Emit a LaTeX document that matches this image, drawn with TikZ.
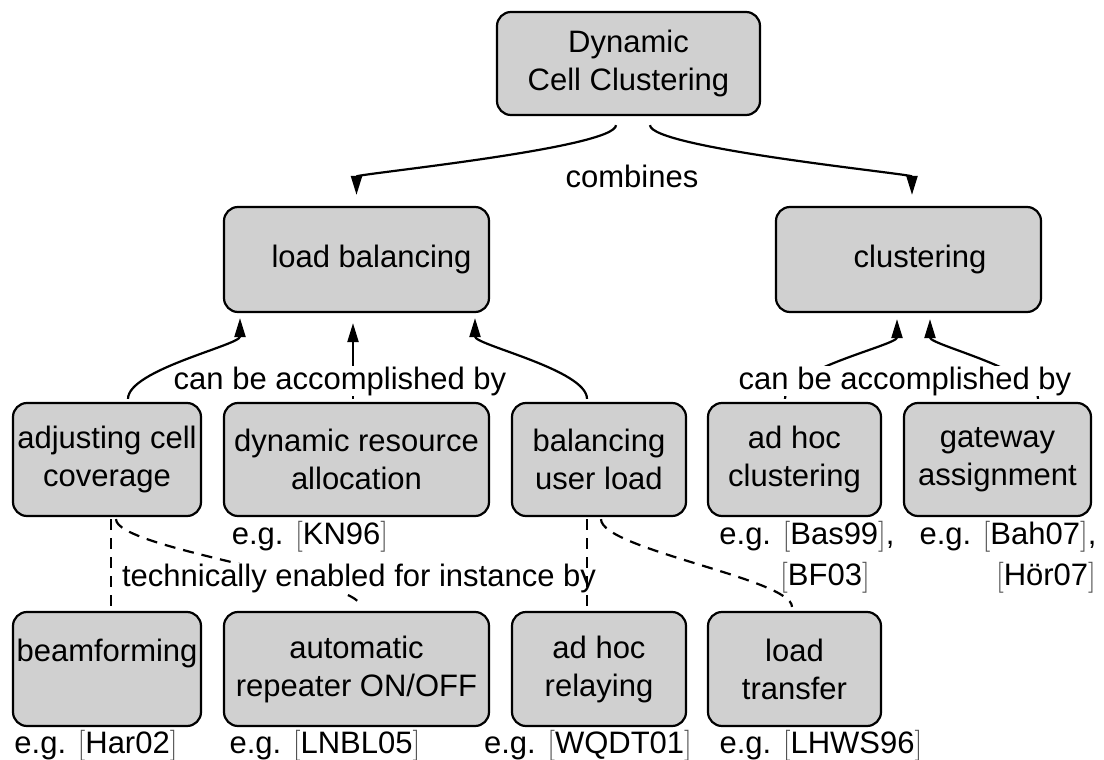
\documentclass[tikz,border=0pt]{standalone}
\usepackage{fontspec}
\setsansfont{Liberation Sans}
\usetikzlibrary{arrows.meta}
\definecolor{boxfill}{RGB}{208,208,208}
% citation keys in thin serif brackets
\newcommand\refbr[1]{{\rmfamily\color{black!70}[}#1{\rmfamily\color{black!70}]}}

\begin{document}
\begin{tikzpicture}[x=1pt,y=1pt,
  every node/.style={font=\sffamily\fontsize{31}{38}\selectfont, inner sep=0pt},
  box/.style={draw=black, line width=2.2pt, fill=boxfill, rounded corners=14pt, align=center},
  link/.style={line width=2.2pt, -{Triangle[length=19pt,width=11pt]}},
  hint/.style={line width=2.2pt, dash pattern=on 11pt off 8pt},
  tag/.style={fill=white, inner xsep=2pt, inner ysep=1pt},
  bend/.style={out=#1, in=-#1, out distance=32pt, in distance=32pt}]
\useasboundingbox (0,0) rectangle (1104,-760);

% top level
\node[box, minimum width=263pt, minimum height=103pt] (top) at (628.5,-63.5) {Dynamic\\Cell Clustering};

% second level
\node[box, minimum width=265pt, minimum height=105pt] (lb) at (356.5,-259.5) {\hspace*{30pt}load balancing};
\node[box, minimum width=265pt, minimum height=105pt] (cl) at (908.5,-259.5) {\hspace*{23pt}clustering};

% methods
\node[box, minimum width=188pt, minimum height=113pt] (adj) at (107,-459.5) {adjusting cell\\coverage};
\node[box, minimum width=265pt, minimum height=113pt] (dra) at (356.5,-459.5) {dynamic resource\\allocation};
\node[box, minimum width=174pt, minimum height=113pt] (bul) at (599,-459.5) {balancing\\user load};
\node[box, minimum width=173pt, minimum height=113pt] (ahc) at (794.5,-459.5) {ad hoc\\clustering};
\node[box, minimum width=187pt, minimum height=113pt] (ga) at (997.5,-459.5) {gateway\\assignment};

% enabling techniques
\node[box, minimum width=188pt, minimum height=114pt] (bf) at (107,-669) {beamforming\\\mbox{}};
\node[box, minimum width=265pt, minimum height=114pt] (arp) at (356.5,-669) {automatic\\repeater ON/OFF};
\node[box, minimum width=174pt, minimum height=114pt] (ahr) at (599,-669) {ad hoc\\relaying};
\node[box, minimum width=173pt, minimum height=114pt] (lt) at (794.5,-669) {load\\transfer};

% combines
\draw[link, shorten <=9pt, shorten >=11pt] ([xshift=-12.5pt]top.south) to[bend=-90] (lb.north);
\draw[link, shorten <=9pt, shorten >=11pt] ([xshift=21.5pt]top.south) to[bend=-90] ([xshift=3.5pt]cl.north);
\node (comb) at (632,-176) {combines};

% can be accomplished by
\draw[link, shorten <=3pt, shorten >=5pt] ([xshift=21pt]adj.north) to[bend=90] ([xshift=-116.5pt]lb.south);
\draw[link, shorten <=3pt, shorten >=10pt] ([xshift=-3.5pt]dra.north) -- ([xshift=-3.5pt]lb.south);
\draw[link, shorten <=3pt, shorten >=5pt] ([xshift=-12pt]bul.north) to[bend=90] ([xshift=118.5pt]lb.south);
\draw[link, shorten <=3pt, shorten >=6pt] ([xshift=-9.5pt]ahc.north) to[bend=90] ([xshift=-11.5pt]cl.south);
\draw[link, shorten <=3pt, shorten >=6pt] ([xshift=40.5pt]ga.north) to[bend=90] ([xshift=21.5pt]cl.south);
\node[tag] (acc1) at (340,-381) {can be accomplished by};
\node[tag] (acc2) at (905,-381) {can be accomplished by};

% technically enabled by
\draw[hint, shorten <=2pt, shorten >=4pt] ([xshift=4pt]adj.south) -- ([xshift=4pt]bf.north);
\draw[hint, shorten <=2pt, shorten >=4pt] ([xshift=9pt]adj.south) to[bend=-90] ([xshift=4.5pt]arp.north);
\node[tag] (tech) at (359,-578) {technically enabled for instance by};
\draw[hint, shorten <=2pt, shorten >=4pt] ([xshift=-12pt]bul.south) -- ([xshift=-12pt]ahr.north);
\draw[hint, shorten <=2pt, shorten >=4pt] ([xshift=2pt]bul.south) to[bend=-90] ([xshift=-2.5pt]lt.north);

% literature
\node (kn) at (310,-537) {e.g. \refbr{KN96}};
\node (bas) at (807,-537) {e.g. \refbr{Bas99},};
\node (bf03) at (825,-578) {\refbr{BF03}};
\node (bah) at (1008,-537) {e.g. \refbr{Bah07},};
\node (hoer) at (1046,-578) {\refbr{Hör07}};
\node (har) at (96,-746) {e.g. \refbr{Har02}};
\node (lnbl) at (325,-746) {e.g. \refbr{LNBL05}};
\node (wqdt) at (588,-746) {e.g. \refbr{WQDT01}};
\node (lhws) at (821,-746) {e.g. \refbr{LHWS96}};
\end{tikzpicture}
\end{document}
